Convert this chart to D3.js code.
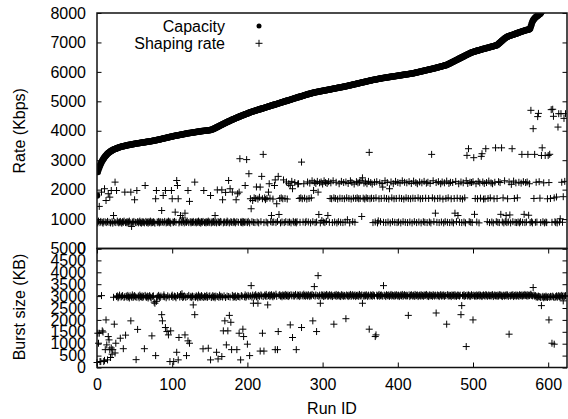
<!DOCTYPE html>
<html>
<head>
<meta charset="utf-8">
<script src="https://cdn.jsdelivr.net/npm/d3@7"></script>
<style>
  body { margin: 0; background: #fff; }
  text { font-family: "Liberation Sans", Arial, Helvetica, sans-serif; }
</style>
</head>
<body>
<div id="chart"></div>
<script>
var width = 568, height = 419;

// capacity per run (Kbps), sorted; runs past ~591 are above the top of the plot
var capacity = [
1800,2600,2680,2750,2820,2880,2930,2980,3020,3060,
3100,3130,3160,3190,3215,3240,3260,3280,3300,3315,
3330,3345,3360,3370,3380,3390,3400,3410,3420,3430,
3440,3448,3455,3462,3468,3474,3480,3486,3492,3498,
3504,3510,3515,3520,3525,3530,3535,3540,3545,3550,
3555,3560,3565,3569,3573,3577,3581,3585,3589,3593,
3597,3601,3605,3609,3613,3617,3621,3625,3629,3633,
3637,3641,3645,3650,3655,3660,3665,3670,3675,3680,
3686,3692,3698,3704,3710,3716,3722,3728,3734,3740,
3746,3752,3758,3764,3770,3776,3782,3788,3794,3800,
3806,3812,3818,3823,3828,3833,3838,3843,3848,3853,
3858,3863,3868,3873,3878,3883,3888,3893,3898,3903,
3908,3913,3918,3922,3926,3930,3934,3938,3942,3946,
3950,3954,3958,3962,3966,3970,3974,3978,3982,3986,
3990,3993,3996,3999,4002,4005,4008,4011,4014,4017,
4020,4025,4032,4040,4050,4062,4075,4088,4101,4114,
4127,4140,4153,4166,4179,4192,4205,4218,4231,4244,
4257,4270,4282,4294,4306,4318,4330,4342,4354,4366,
4377,4388,4399,4410,4421,4432,4443,4454,4465,4476,
4487,4497,4507,4517,4527,4537,4547,4557,4567,4577,
4587,4597,4607,4617,4626,4635,4644,4653,4662,4671,
4678,4686,4694,4702,4710,4718,4726,4734,4742,4750,
4758,4766,4774,4782,4790,4798,4806,4814,4822,4830,
4838,4846,4854,4862,4870,4878,4886,4894,4902,4910,
4918,4926,4934,4942,4950,4958,4966,4974,4982,4990,
4998,5006,5014,5022,5030,5038,5046,5054,5062,5070,
5078,5086,5094,5102,5110,5118,5126,5134,5142,5150,
5158,5166,5174,5182,5190,5198,5206,5214,5222,5230,
5237,5244,5251,5258,5265,5272,5279,5286,5293,5300,
5305,5310,5315,5320,5325,5330,5335,5340,5345,5350,
5355,5360,5365,5370,5375,5380,5385,5390,5395,5400,
5405,5410,5415,5420,5425,5430,5435,5440,5445,5450,
5455,5460,5465,5470,5475,5480,5485,5490,5495,5500,
5505,5510,5516,5522,5528,5534,5540,5546,5552,5558,
5564,5570,5576,5582,5588,5594,5600,5606,5612,5618,
5624,5630,5636,5642,5648,5654,5660,5666,5672,5678,
5684,5690,5696,5702,5708,5714,5720,5725,5730,5735,
5740,5745,5750,5755,5760,5765,5770,5775,5780,5785,
5789,5793,5797,5801,5805,5809,5813,5817,5821,5825,
5829,5833,5837,5841,5845,5849,5853,5857,5861,5865,
5869,5873,5877,5881,5885,5889,5893,5897,5901,5905,
5909,5913,5917,5921,5925,5929,5933,5937,5941,5945,
5949,5955,5961,5967,5973,5979,5985,5991,5997,6003,
6009,6015,6021,6027,6033,6039,6045,6051,6057,6063,
6069,6075,6081,6087,6093,6099,6105,6111,6117,6123,
6129,6136,6143,6150,6157,6164,6171,6178,6185,6192,
6199,6206,6213,6220,6228,6236,6248,6260,6272,6284,
6297,6310,6323,6336,6349,6362,6375,6388,6401,6414,
6427,6440,6453,6466,6479,6492,6505,6518,6531,6544,
6557,6570,6583,6596,6609,6622,6635,6645,6655,6665,
6673,6681,6689,6697,6705,6713,6721,6729,6737,6745,
6752,6759,6766,6773,6780,6787,6794,6801,6808,6815,
6822,6829,6836,6843,6850,6857,6864,6871,6878,6885,
6892,6899,6910,6930,6952,6975,6998,7021,7044,7067,
7090,7110,7130,7150,7168,7184,7196,7206,7216,7226,
7235,7244,7253,7262,7271,7280,7289,7298,7307,7316,
7325,7334,7343,7352,7361,7370,7379,7388,7397,7406,
7414,7420,7426,7432,7438,7444,7470,7550,7630,7700,
7755,7790,7820,7845,7870,7890,7910,7930,7950,7970,
7995,8030,8070
];

// shaping rate per run (Kbps)
var shaping = [
900,870,930,1430,880,920,1915,890,860,910,
2030,900,1630,880,920,1860,890,1745,870,1970,
910,860,1120,900,2255,880,1970,930,890,870,
900,920,880,860,910,890,930,1915,880,900,
870,910,890,930,880,1915,750,900,870,920,
1655,890,880,1970,910,870,900,930,880,860,
910,890,900,870,2140,920,880,900,860,910,
890,930,870,900,880,910,890,860,1690,1970,
900,880,920,870,910,890,1290,900,1800,880,
920,1970,870,900,890,930,880,910,860,1970,
1690,900,880,920,1235,890,2310,2140,1690,870,
910,1120,900,880,1040,920,870,1200,900,890,
930,1970,880,1600,910,870,900,890,920,880,
2255,900,870,910,890,930,880,900,860,910,
890,920,1970,880,900,870,910,890,930,880,
900,1800,870,910,890,920,880,1120,900,870,
1990,910,890,880,920,900,1990,1655,870,910,
890,1905,880,930,900,2310,870,2030,910,890,
1915,880,920,900,870,1655,910,1860,890,1915,
3050,900,880,920,870,910,890,2140,900,3020,
880,920,2540,870,1690,1350,910,1630,890,1720,
880,1700,2090,900,1680,870,1740,2086,910,2450,
1690,3197,880,1720,1660,900,1700,870,1915,2200,
1710,910,1122,890,1680,900,2140,2330,880,1520,
920,2450,1156,1700,870,1720,900,1690,2330,880,
1700,910,2260,1680,890,2200,900,2143,870,2280,
2030,920,880,2240,900,870,910,2190,2200,1700,
890,1720,2935,1690,900,2200,1710,880,920,1680,
2260,900,1700,2220,870,1720,2300,910,1973,2250,
880,2210,900,2280,1915,1156,2230,870,2260,950,
2190,900,2300,880,2240,920,2210,1122,2270,890,
1700,2230,1690,880,2300,1720,900,1700,2250,870,
1680,910,2200,1710,890,2280,1700,880,2240,1690,
900,2260,1720,978,2210,1700,870,2300,1680,2240,
910,1710,2190,890,1700,2270,1720,2230,1690,2250,
1700,2300,1088,2400,1710,2220,1680,2260,1720,2200,
1700,2280,3265,1690,2240,1710,2190,880,1700,2250,
900,1720,2270,870,940,1690,2230,910,1700,2210,
2086,890,1710,2300,880,1700,2240,900,1680,2030,
870,2260,1720,910,2200,1690,890,2280,1700,880,
2240,900,1710,2220,870,1700,2300,910,1680,2250,
890,1720,2230,880,1700,2270,900,1690,2210,870,
1710,2290,910,1700,2240,880,2200,1720,900,2260,
1690,870,2230,1700,910,2280,890,1710,2220,880,
2250,1700,900,2210,870,3197,1720,2300,910,1690,
1200,2240,890,1700,2270,880,1710,2200,900,2260,
1680,870,2230,910,1700,2290,890,1720,2210,880,
2250,1690,900,2240,870,1700,1200,2280,910,1710,
1120,2200,890,1700,2260,880,1680,2230,900,1720,
870,2300,3163,2210,3390,910,2250,890,2240,880,
2270,3085,1160,1700,2200,900,1690,2280,870,2230,
1710,3130,3220,2260,1680,2210,1690,3390,2240,910,
1700,2290,880,1720,2230,900,2200,870,1690,2250,
3420,910,1700,890,2270,880,2240,1160,3420,900,
1720,870,2300,910,1120,880,1690,900,2260,1140,
870,2180,3390,910,2290,1700,890,2230,880,1720,
900,2250,870,910,2220,3197,890,2270,1160,880,
2240,900,2260,3197,1130,2200,880,4694,910,870,
4070,1700,3197,890,2250,900,4480,4590,2270,1710,
880,3160,3420,910,2230,870,3160,900,880,1690,
3160,2240,3200,1700,4717,890,4730,4490,1720,910,
880,1750,870,4125,4580,900,1010,4580,2250,890,
1760,4420,2280,4580
];

// burst size per run (KB)
var burst = [
210,1440,1020,1440,250,250,3020,1540,1490,250,
300,750,2000,950,320,1300,1160,750,420,820,
560,750,2950,1820,610,1020,2980,3010,2930,2970,
3040,1230,2960,2990,3020,790,2940,2980,1360,3000,
2950,3030,2970,2920,3010,1960,2960,3050,2940,2990,
3020,2970,330,2950,1600,3000,2930,3040,2980,2960,
3010,2940,2990,790,3030,2970,2950,3000,2920,2980,
3020,2960,2940,1330,2990,3010,2750,2700,500,2780,
2950,2990,3030,2960,2940,3000,2220,1960,2980,3050,
2970,1680,2930,1510,3010,1370,2960,250,1540,2990,
3040,2950,250,3000,2980,2930,640,3020,320,1260,
2960,3060,2990,3100,2940,2970,3010,1370,2950,500,
2980,1120,3030,1020,2960,2990,2940,3000,2630,2970,
2220,2950,3010,2980,2930,3040,2960,2990,2950,3020,
2970,785,2940,3000,2980,2960,3030,2950,810,2990,
3010,320,2940,2970,3020,2960,2990,2930,3000,640,
2980,360,2950,3040,2970,2990,460,2960,1540,3010,
1960,2940,950,3000,1540,2980,2190,2960,1900,750,
3030,2950,2990,2970,3010,2940,750,3000,2980,1440,
2960,320,3020,2990,1610,1300,2970,3050,2950,3000,
980,3030,2980,500,3010,3440,2960,3040,2700,2990,
3020,3060,2970,3000,2700,3030,2990,690,3050,3010,
1440,2980,690,3040,3000,3070,2990,2630,3020,3050,
2980,3030,3060,3000,2970,3040,3010,750,3080,2990,
750,1510,3030,3060,3000,3020,2970,3050,3010,3040,
2990,3070,3020,3000,3050,2980,3030,1790,3060,3010,
1260,3040,2990,3020,3070,750,3000,3050,3030,2980,
3060,3010,1680,3040,3000,3080,3020,2990,3050,3030,
3000,3060,3020,2980,3040,3010,3070,1960,3030,3400,
3000,3050,1510,3020,3860,2990,3040,2700,3010,3060,
3030,2980,3050,3000,3020,3070,3040,2990,3010,3060,
3030,3000,3050,2980,3020,1820,3040,3010,3070,2990,
3030,3050,3000,3020,2980,3060,3010,3040,2990,3030,
3000,2050,3050,3020,2980,3040,3010,3070,2990,3030,
3060,3000,3020,3050,2980,3030,3010,3040,2990,3070,
3020,3000,3050,2700,3030,2990,3040,3010,3060,3020,
2980,3040,1610,3000,3050,3020,2990,3060,3030,3010,
1300,1370,3040,3000,3020,3070,2990,3030,3050,3010,
3000,3440,3040,3020,2980,3060,3030,3010,3050,2990,
3030,3070,3000,3040,3020,2990,3050,3010,3060,3030,
3000,3040,2980,3020,3050,3010,3070,2990,3030,3060,
3020,3000,3040,3010,2190,3050,2980,3030,3060,3020,
3000,3040,2990,3070,3010,3030,3050,2980,3020,3040,
3000,3060,3010,3030,2990,3050,3020,3040,3070,3000,
3030,2980,3050,3010,3040,3020,2990,3060,3030,3000,
3040,2290,3010,3050,3020,2980,3030,3060,3000,3040,
3010,3050,2990,3030,3020,1820,3060,3000,3040,3010,
3030,2980,3050,3020,3040,3000,3060,3010,2990,3030,
3050,3020,3000,3040,2220,2600,3030,3010,3060,2990,
3020,880,3040,3000,3050,3030,2980,3010,3060,3020,
2000,3040,3000,3030,2990,3050,3010,3020,3060,3000,
3040,3010,2980,3030,3050,3020,3000,3060,3040,2990,
3020,3050,3010,3030,3000,3040,3060,2980,3020,3050,
3010,3030,2990,3040,3000,3060,3020,3050,3010,2980,
3030,3040,3000,3020,3060,3010,3050,2990,1400,3030,
3000,3040,3020,3060,2980,3030,3010,3050,3000,3040,
3020,2990,3060,3030,3010,3050,3000,3040,3020,3070,
3030,3010,3060,3000,3040,3020,3050,3080,3030,3010,
3360,3040,3000,3020,2960,2990,2950,3000,2970,2980,
2940,2600,2960,2990,2930,2970,2950,3000,2960,2940,
2980,2000,2950,2990,2970,1020,3000,2960,980,2940,
2980,3010,2950,2990,3020,2970,3000,2960,3030,2990,
2800,3010,2980,3020
];

var xTicks = [0, 100, 200, 300, 400, 500, 600];
var rateTicks = [0, 1000, 2000, 3000, 4000, 5000, 6000, 7000, 8000];
var burstTicks = [0, 500, 1000, 1500, 2000, 2500, 3000, 3500, 4000, 4500, 5000];

var left = 97, right = 567;
var topY0 = 13, topY1 = 248.5, botY1 = 367.5;

var x = d3.scaleLinear().domain([0, 625]).range([left, right]);
var yRate = d3.scaleLinear().domain([0, 8000]).range([topY1, topY0]);
var yBurst = d3.scaleLinear().domain([0, 5000]).range([botY1, topY1]);

var fmt = d3.format("d");

var svg = d3.select("#chart")
            .append("svg")
            .attr("width", width)
            .attr("height", height)
            .style("font-size", "16px");

svg.append("clipPath").attr("id", "clipTop")
   .append("rect")
   .attr("x", left).attr("y", topY0)
   .attr("width", right - left).attr("height", topY1 - topY0);

var plus = "M-3.5,0H3.5M0,-3.5V3.5";

// top panel
var gTop = svg.append("g").attr("clip-path", "url(#clipTop)");

gTop.selectAll("path.shape")
    .data(shaping)
    .enter()
    .append("path")
    .attr("class", "shape")
    .attr("d", plus)
    .attr("transform", function(d, i) { return "translate(" + x(i) + "," + yRate(d) + ")"; })
    .attr("stroke", "#000")
    .attr("stroke-width", 1)
    .attr("fill", "none");

gTop.selectAll("circle")
    .data(capacity)
    .enter()
    .append("circle")
    .attr("cx", function(d, i) { return x(i); })
    .attr("cy", function(d) { return yRate(d); })
    .attr("r", 3.3)
    .attr("fill", "#000");

// bottom panel
svg.append("g").selectAll("path")
    .data(burst)
    .enter()
    .append("path")
    .attr("d", plus)
    .attr("transform", function(d, i) { return "translate(" + x(i) + "," + yBurst(d) + ")"; })
    .attr("stroke", "#000")
    .attr("stroke-width", 1)
    .attr("fill", "none");

// axes
function styleAxis(g) {
    g.select(".domain").remove();
    g.selectAll("line").attr("stroke", "#000");
    g.selectAll("text")
     .attr("fill", "#000")
     .style("font-family", "'Liberation Sans', Arial, sans-serif")
     .style("font-size", "16px");
}

svg.append("g")
   .attr("transform", "translate(" + left + ",0)")
   .call(d3.axisLeft(yRate).tickValues(rateTicks).tickFormat(fmt).tickSize(-4.5).tickPadding(11))
   .call(styleAxis);

svg.append("g")
   .attr("transform", "translate(" + right + ",0)")
   .call(d3.axisRight(yRate).tickValues(rateTicks).tickSize(-4.5).tickFormat(""))
   .call(styleAxis);

svg.append("g")
   .attr("transform", "translate(" + left + ",0)")
   .call(d3.axisLeft(yBurst).tickValues(burstTicks).tickFormat(fmt).tickSize(-4.5).tickPadding(11))
   .call(styleAxis);

svg.append("g")
   .attr("transform", "translate(" + right + ",0)")
   .call(d3.axisRight(yBurst).tickValues(burstTicks).tickSize(-4.5).tickFormat(""))
   .call(styleAxis);

svg.append("g")
   .attr("transform", "translate(0," + botY1 + ")")
   .call(d3.axisBottom(x).tickValues(xTicks).tickFormat(fmt).tickSize(-5).tickPadding(11))
   .call(styleAxis);

svg.append("g")
   .attr("transform", "translate(0," + topY1 + ")")
   .call(d3.axisTop(x).tickValues(xTicks).tickSize(-5).tickFormat(""))
   .call(styleAxis);

// frames
[[topY0, topY1], [topY1, botY1]].forEach(function(p) {
    svg.append("rect")
       .attr("x", left).attr("y", p[0])
       .attr("width", right - left).attr("height", p[1] - p[0])
       .attr("fill", "none")
       .attr("stroke", "#111")
       .attr("stroke-width", 1.5);
});

// axis titles
svg.append("text")
   .attr("transform", "translate(25," + (topY0 + topY1) / 2 + ") rotate(-90)")
   .attr("text-anchor", "middle")
   .text("Rate (Kbps)");

svg.append("text")
   .attr("transform", "translate(25,307) rotate(-90)")
   .attr("text-anchor", "middle")
   .text("Burst size (KB)");

svg.append("text")
   .attr("x", (left + right) / 2)
   .attr("y", 414)
   .attr("text-anchor", "middle")
   .text("Run ID");

// legend
var legend = svg.append("g");
legend.append("text").attr("x", 225).attr("y", 32).attr("text-anchor", "end").text("Capacity");
legend.append("circle").attr("cx", 259).attr("cy", 26).attr("r", 2.5).attr("fill", "#000");
legend.append("text").attr("x", 225).attr("y", 48.7).attr("text-anchor", "end").text("Shaping rate");
legend.append("path").attr("d", plus).attr("transform", "translate(259,43.3)")
      .attr("stroke", "#000").attr("fill", "none");
</script>
</body>
</html>
